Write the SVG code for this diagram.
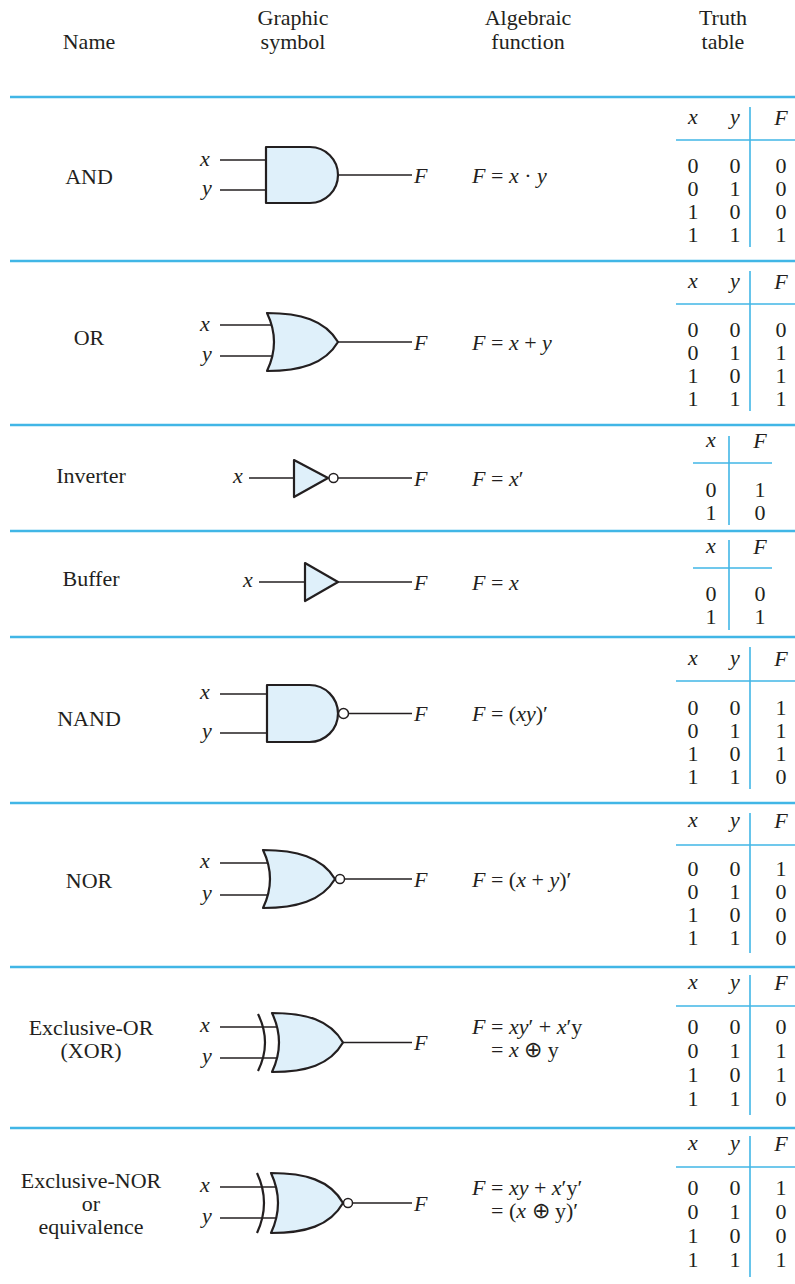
<svg xmlns="http://www.w3.org/2000/svg" width="795" height="1284" viewBox="0 0 795 1284">
<style>
text{font-family:"Liberation Serif","Times New Roman",serif;font-size:22px;fill:#231f20}
.c{text-anchor:middle}
.i{font-style:italic}
.sep{stroke:#41b6e6;stroke-width:2.5;fill:none}
.tl{stroke:#41b6e6;stroke-width:1.6;fill:none}
.w{stroke:#231f20;stroke-width:1.4;fill:none}
.g{fill:#dff0fa;stroke:#231f20;stroke-width:2.2;stroke-linejoin:round}
.a{fill:none;stroke:#231f20;stroke-width:2.2}
.b{fill:#ffffff;stroke:#231f20;stroke-width:1.5}
</style>
<rect width="795" height="1284" fill="#ffffff"/>
<g id="header">
<text class="c" x="89" y="49">Name</text>
<text class="c" x="293" y="25">Graphic</text>
<text class="c" x="293" y="49">symbol</text>
<text class="c" x="528" y="25">Algebraic</text>
<text class="c" x="528" y="49">function</text>
<text class="c" x="723" y="25">Truth</text>
<text class="c" x="723" y="49">table</text>
</g>
<g id="separators">
<line class="sep" x1="10" y1="97" x2="795" y2="97"/>
<line class="sep" x1="10" y1="261" x2="795" y2="261"/>
<line class="sep" x1="10" y1="425" x2="795" y2="425"/>
<line class="sep" x1="10" y1="531" x2="795" y2="531"/>
<line class="sep" x1="10" y1="637" x2="795" y2="637"/>
<line class="sep" x1="10" y1="803" x2="795" y2="803"/>
<line class="sep" x1="10" y1="967" x2="795" y2="967"/>
<line class="sep" x1="10" y1="1128" x2="795" y2="1128"/>
</g>
<g id="connectors">
<line class="w" x1="220" y1="160" x2="267" y2="160"/>
<line class="w" x1="220" y1="190" x2="267" y2="190"/>
<line class="w" x1="338" y1="175" x2="412" y2="175"/>
<line class="w" x1="220" y1="325" x2="276" y2="325"/>
<line class="w" x1="220" y1="356" x2="276" y2="356"/>
<line class="w" x1="338" y1="342" x2="412" y2="342"/>
<line class="w" x1="249" y1="478" x2="294" y2="478"/>
<line class="w" x1="338" y1="478" x2="412" y2="478"/>
<line class="w" x1="259" y1="582" x2="305" y2="582"/>
<line class="w" x1="338" y1="582" x2="412" y2="582"/>
<line class="w" x1="220" y1="694" x2="267" y2="694"/>
<line class="w" x1="220" y1="733" x2="267" y2="733"/>
<line class="w" x1="348.5" y1="713.5" x2="412" y2="713.5"/>
<line class="w" x1="220" y1="863" x2="272" y2="863"/>
<line class="w" x1="220" y1="895" x2="272" y2="895"/>
<line class="w" x1="344.5" y1="879" x2="412" y2="879"/>
<line class="w" x1="220" y1="1027" x2="281" y2="1027"/>
<line class="w" x1="220" y1="1058" x2="281" y2="1058"/>
<line class="w" x1="343" y1="1042.5" x2="412" y2="1042.5"/>
<line class="w" x1="220" y1="1187" x2="280" y2="1187"/>
<line class="w" x1="220" y1="1218" x2="280" y2="1218"/>
<line class="w" x1="352.5" y1="1203" x2="412" y2="1203"/>
</g>
<g id="and">
<text class="c" x="89" y="184">AND</text>
<text class="c i" x="205" y="166">x</text>
<text class="c i" x="207" y="195">y</text>
<path class="g" d="M266,147 H310 A28,28 0 0 1 310,203 H266 Z"/>
<text class="i" x="414" y="183">F</text>
<text x="472" y="183"><tspan class="i">F</tspan> = <tspan class="i">x</tspan> · <tspan class="i">y</tspan></text>
</g>
<g id="or">
<text class="c" x="89" y="345">OR</text>
<text class="c i" x="205" y="331">x</text>
<text class="c i" x="207" y="361">y</text>
<path class="g" d="M267,313 C300,313 325,320 338,342 C325,364 300,371 267,371 Q281,342 267,313 Z"/>
<text class="i" x="414" y="350">F</text>
<text x="472" y="350"><tspan class="i">F</tspan> = <tspan class="i">x</tspan> + <tspan class="i">y</tspan></text>
</g>
<g id="inverter">
<text class="c" x="91" y="483">Inverter</text>
<text class="c i" x="238" y="483">x</text>
<path class="g" d="M294,460 L328,478 L294,497 Z"/>
<circle class="b" cx="333.5" cy="478" r="4.5"/>
<text class="i" x="414" y="486">F</text>
<text x="472" y="486"><tspan class="i">F</tspan> = <tspan class="i">x</tspan>′</text>
</g>
<g id="buffer">
<text class="c" x="91" y="586">Buffer</text>
<text class="c i" x="248" y="587">x</text>
<path class="g" d="M305,563 L338,582 L305,601 Z"/>
<text class="i" x="414" y="590">F</text>
<text x="472" y="590"><tspan class="i">F</tspan> = <tspan class="i">x</tspan></text>
</g>
<g id="nand">
<text class="c" x="89" y="726">NAND</text>
<text class="c i" x="205" y="699">x</text>
<text class="c i" x="207" y="738">y</text>
<path class="g" d="M267,685 H309.5 A28.5,28.5 0 0 1 309.5,742 H267 Z"/>
<circle class="b" cx="343.5" cy="713.5" r="5"/>
<text class="i" x="414" y="721">F</text>
<text x="472" y="721"><tspan class="i">F</tspan> = (<tspan class="i">xy</tspan>)′</text>
</g>
<g id="nor">
<text class="c" x="89" y="888">NOR</text>
<text class="c i" x="205" y="868">x</text>
<text class="c i" x="207" y="900">y</text>
<path class="g" d="M263,850 C296,850 322,857 335,879 C322,901 296,908 263,908 Q277,879 263,850 Z"/>
<circle class="b" cx="340" cy="879" r="4.5"/>
<text class="i" x="414" y="887">F</text>
<text x="472" y="887"><tspan class="i">F</tspan> = (<tspan class="i">x</tspan> + <tspan class="i">y</tspan>)′</text>
</g>
<g id="xor">
<text class="c" x="91" y="1035">Exclusive-OR</text>
<text class="c" x="91" y="1058">(XOR)</text>
<text class="c i" x="205" y="1032">x</text>
<text class="c i" x="207" y="1063">y</text>
<path class="a" d="M258,1014 Q272,1042.5 258,1071"/>
<path class="g" d="M272,1013 C306,1013 330,1020 343,1042.5 C330,1065 306,1072 272,1072 Q286,1042.5 272,1013 Z"/>
<text class="i" x="414" y="1050">F</text>
<text x="472" y="1034"><tspan class="i">F</tspan> = <tspan class="i">xy</tspan>′ + <tspan class="i">x</tspan>′y</text>
<text x="491" y="1057">= <tspan class="i">x</tspan> ⊕ y</text>
</g>
<g id="xnor">
<text class="c" x="91" y="1188">Exclusive-NOR</text>
<text class="c" x="91" y="1211">or</text>
<text class="c" x="91" y="1234">equivalence</text>
<text class="c i" x="205" y="1192">x</text>
<text class="c i" x="207" y="1223">y</text>
<path class="a" d="M257,1173 Q271,1203 257,1233"/>
<path class="g" d="M271,1173 C305,1173 330,1180 343,1203 C330,1226 305,1233 271,1233 Q285,1203 271,1173 Z"/>
<circle class="b" cx="348" cy="1203" r="4.5"/>
<text class="i" x="414" y="1211">F</text>
<text x="472" y="1195"><tspan class="i">F</tspan> = <tspan class="i">xy</tspan> + <tspan class="i">x</tspan>′y′</text>
<text x="491" y="1218">= (<tspan class="i">x</tspan> ⊕ y)′</text>
</g>
<g id="tables">
<line class="tl" x1="750" y1="107" x2="750" y2="247"/>
<line class="tl" x1="676" y1="140" x2="795" y2="140"/>
<text class="c i" x="693" y="124">x</text><text class="c i" x="735" y="124">y</text><text class="c i" x="781" y="125">F</text>
<text class="c" x="693" y="173">0</text><text class="c" x="735" y="173">0</text><text class="c" x="781" y="173">0</text>
<text class="c" x="693" y="196">0</text><text class="c" x="735" y="196">1</text><text class="c" x="781" y="196">0</text>
<text class="c" x="693" y="219">1</text><text class="c" x="735" y="219">0</text><text class="c" x="781" y="219">0</text>
<text class="c" x="693" y="242">1</text><text class="c" x="735" y="242">1</text><text class="c" x="781" y="242">1</text>
<line class="tl" x1="750" y1="271" x2="750" y2="411"/>
<line class="tl" x1="676" y1="304" x2="795" y2="304"/>
<text class="c i" x="693" y="288">x</text><text class="c i" x="735" y="288">y</text><text class="c i" x="781" y="289">F</text>
<text class="c" x="693" y="337">0</text><text class="c" x="735" y="337">0</text><text class="c" x="781" y="337">0</text>
<text class="c" x="693" y="360">0</text><text class="c" x="735" y="360">1</text><text class="c" x="781" y="360">1</text>
<text class="c" x="693" y="383">1</text><text class="c" x="735" y="383">0</text><text class="c" x="781" y="383">1</text>
<text class="c" x="693" y="406">1</text><text class="c" x="735" y="406">1</text><text class="c" x="781" y="406">1</text>
<line class="tl" x1="729" y1="436" x2="729" y2="525"/>
<line class="tl" x1="693" y1="463" x2="772" y2="463"/>
<text class="c i" x="711" y="447">x</text><text class="c i" x="760" y="448">F</text>
<text class="c" x="711" y="497">0</text><text class="c" x="760" y="497">1</text>
<text class="c" x="711" y="520">1</text><text class="c" x="760" y="520">0</text>
<line class="tl" x1="729" y1="540" x2="729" y2="630"/>
<line class="tl" x1="693" y1="568" x2="772" y2="568"/>
<text class="c i" x="711" y="553">x</text><text class="c i" x="760" y="554">F</text>
<text class="c" x="711" y="601">0</text><text class="c" x="760" y="601">0</text>
<text class="c" x="711" y="624">1</text><text class="c" x="760" y="624">1</text>
<line class="tl" x1="750" y1="647" x2="750" y2="789"/>
<line class="tl" x1="676" y1="681" x2="795" y2="681"/>
<text class="c i" x="693" y="665">x</text><text class="c i" x="735" y="665">y</text><text class="c i" x="781" y="666">F</text>
<text class="c" x="693" y="715">0</text><text class="c" x="735" y="715">0</text><text class="c" x="781" y="715">1</text>
<text class="c" x="693" y="738">0</text><text class="c" x="735" y="738">1</text><text class="c" x="781" y="738">1</text>
<text class="c" x="693" y="761">1</text><text class="c" x="735" y="761">0</text><text class="c" x="781" y="761">1</text>
<text class="c" x="693" y="784">1</text><text class="c" x="735" y="784">1</text><text class="c" x="781" y="784">0</text>
<line class="tl" x1="750" y1="813" x2="750" y2="953"/>
<line class="tl" x1="676" y1="845" x2="795" y2="845"/>
<text class="c i" x="693" y="827">x</text><text class="c i" x="735" y="827">y</text><text class="c i" x="781" y="828">F</text>
<text class="c" x="693" y="876">0</text><text class="c" x="735" y="876">0</text><text class="c" x="781" y="876">1</text>
<text class="c" x="693" y="899">0</text><text class="c" x="735" y="899">1</text><text class="c" x="781" y="899">0</text>
<text class="c" x="693" y="922">1</text><text class="c" x="735" y="922">0</text><text class="c" x="781" y="922">0</text>
<text class="c" x="693" y="945">1</text><text class="c" x="735" y="945">1</text><text class="c" x="781" y="945">0</text>
<line class="tl" x1="750" y1="975" x2="750" y2="1115"/>
<line class="tl" x1="676" y1="1006" x2="795" y2="1006"/>
<text class="c i" x="693" y="989">x</text><text class="c i" x="735" y="989">y</text><text class="c i" x="781" y="990">F</text>
<text class="c" x="693" y="1034">0</text><text class="c" x="735" y="1034">0</text><text class="c" x="781" y="1034">0</text>
<text class="c" x="693" y="1058">0</text><text class="c" x="735" y="1058">1</text><text class="c" x="781" y="1058">1</text>
<text class="c" x="693" y="1082">1</text><text class="c" x="735" y="1082">0</text><text class="c" x="781" y="1082">1</text>
<text class="c" x="693" y="1106">1</text><text class="c" x="735" y="1106">1</text><text class="c" x="781" y="1106">0</text>
<line class="tl" x1="750" y1="1136" x2="750" y2="1277"/>
<line class="tl" x1="676" y1="1167" x2="795" y2="1167"/>
<text class="c i" x="693" y="1150">x</text><text class="c i" x="735" y="1150">y</text><text class="c i" x="781" y="1151">F</text>
<text class="c" x="693" y="1195">0</text><text class="c" x="735" y="1195">0</text><text class="c" x="781" y="1195">1</text>
<text class="c" x="693" y="1219">0</text><text class="c" x="735" y="1219">1</text><text class="c" x="781" y="1219">0</text>
<text class="c" x="693" y="1243">1</text><text class="c" x="735" y="1243">0</text><text class="c" x="781" y="1243">0</text>
<text class="c" x="693" y="1267">1</text><text class="c" x="735" y="1267">1</text><text class="c" x="781" y="1267">1</text>
</g>
</svg>
